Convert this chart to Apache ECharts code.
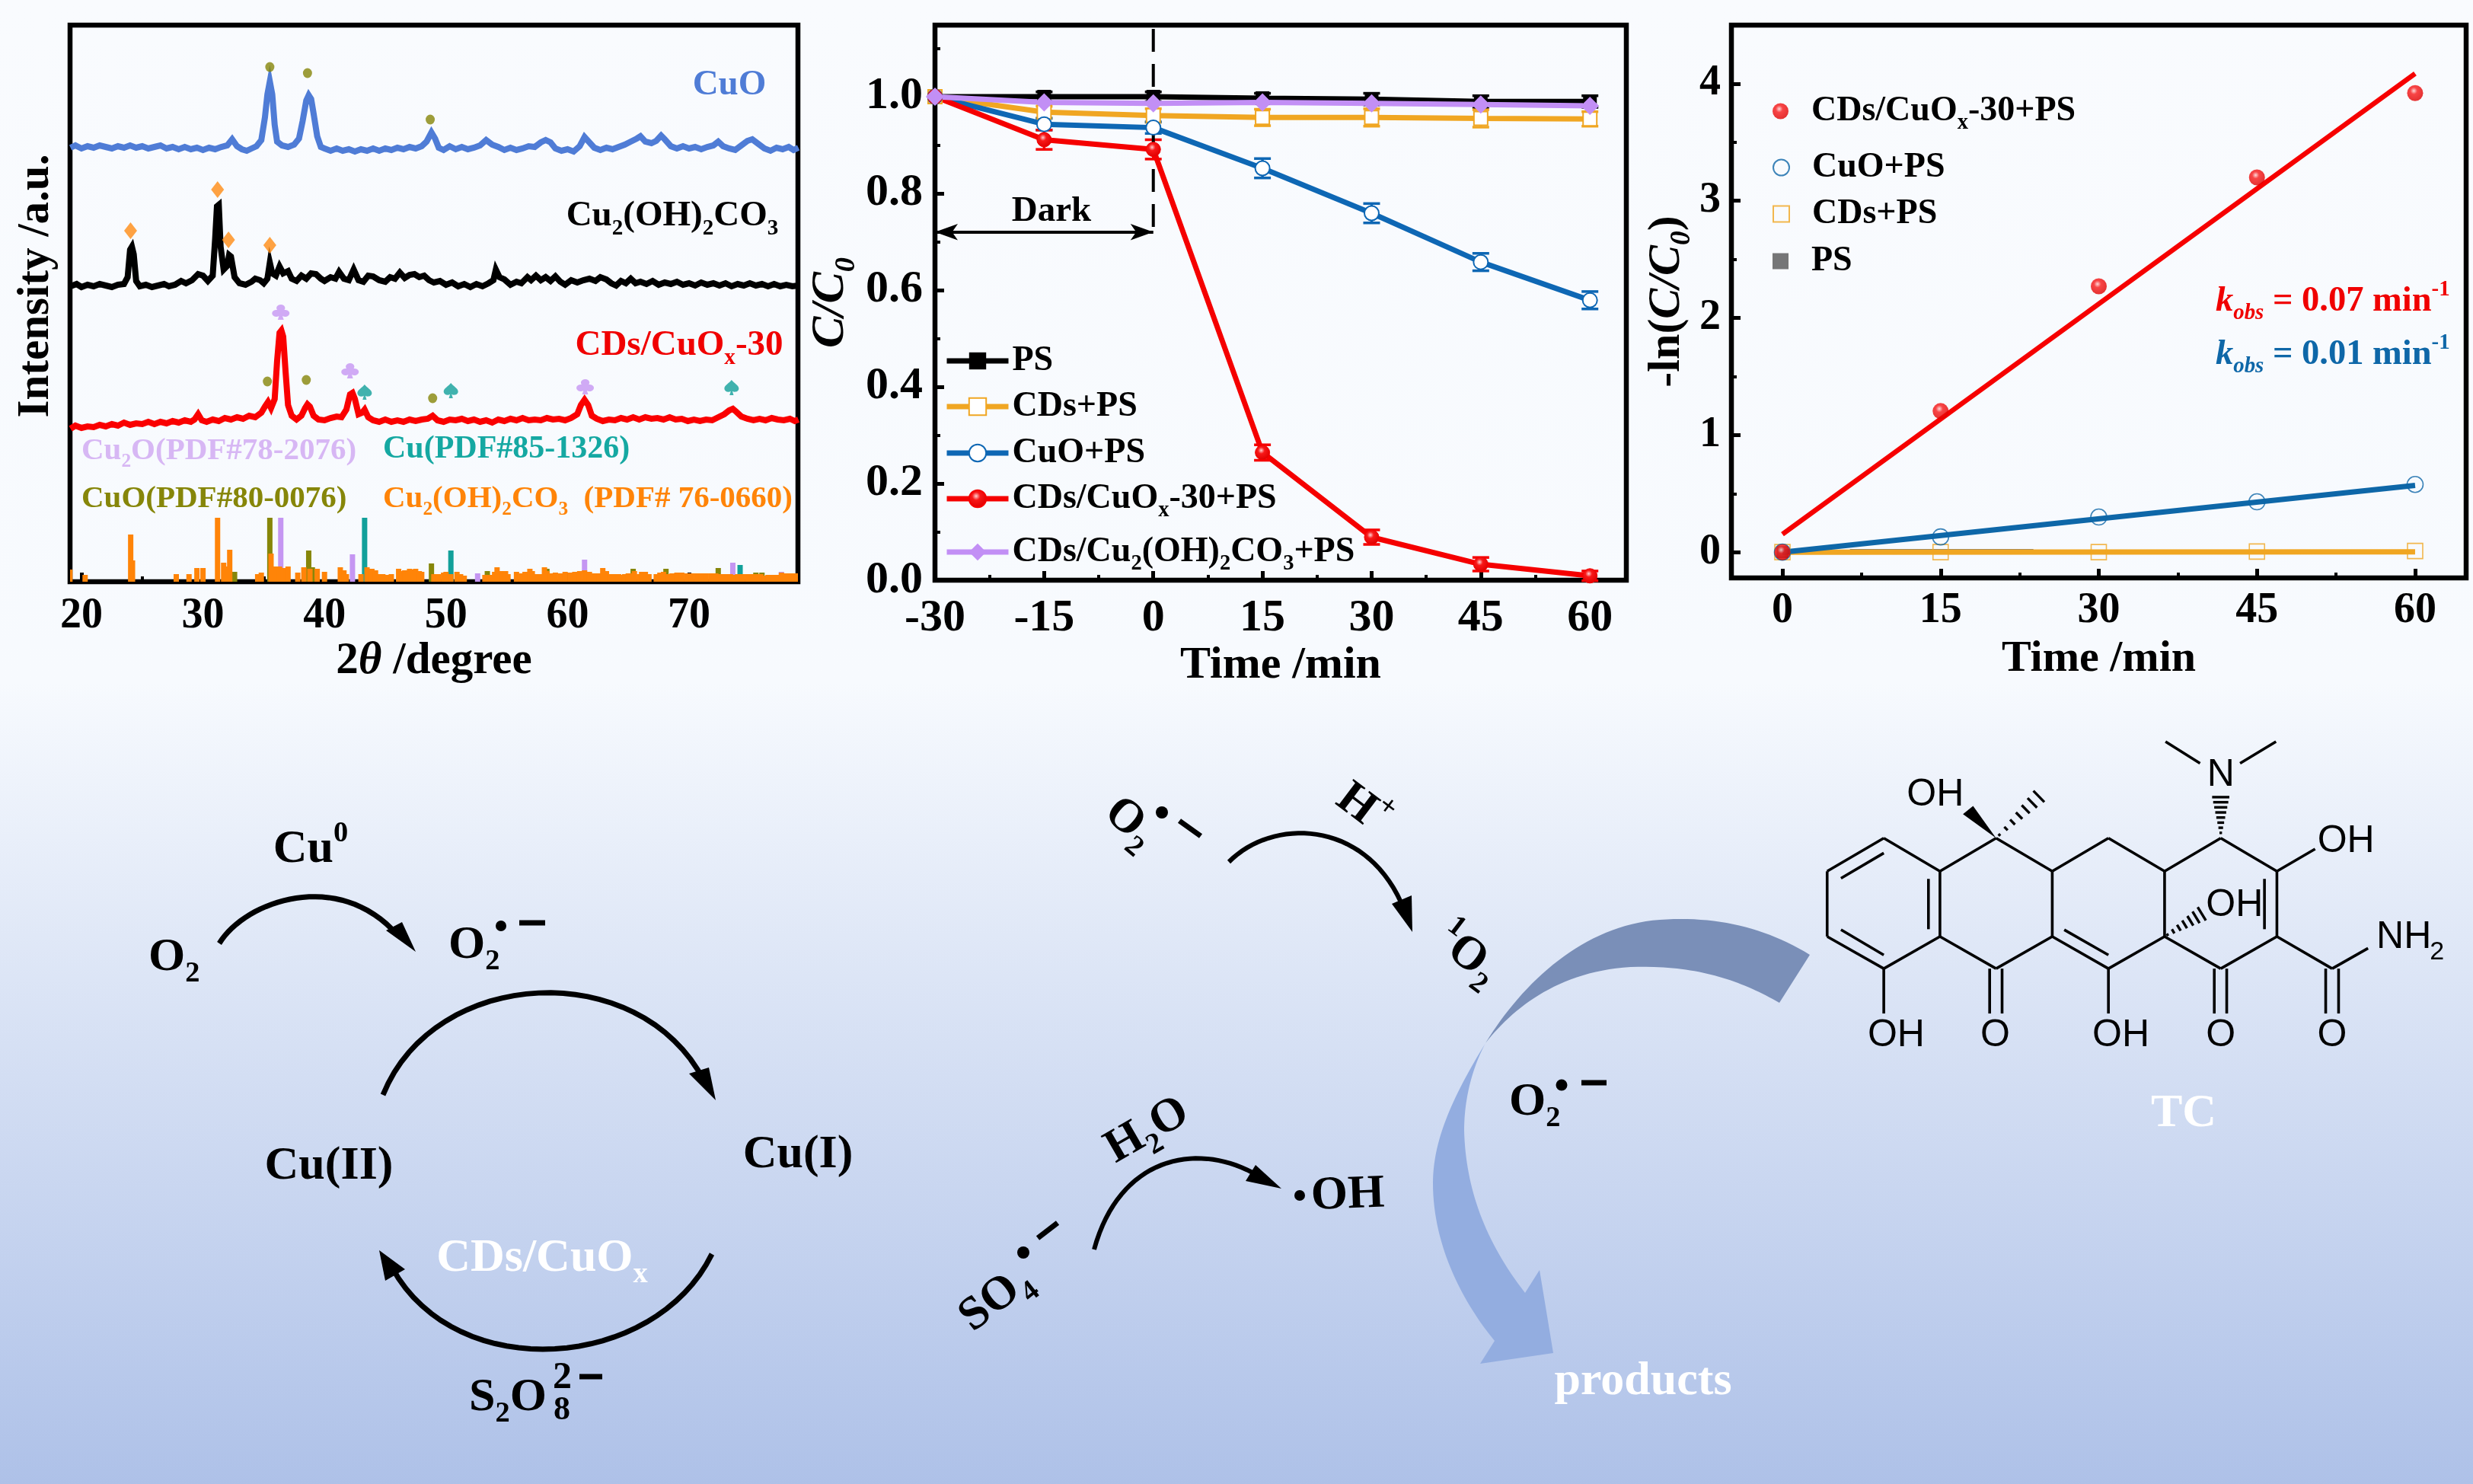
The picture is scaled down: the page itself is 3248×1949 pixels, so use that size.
<!DOCTYPE html>
<html><head><meta charset="utf-8">
<style>html,body{margin:0;padding:0;width:3248px;height:1949px;overflow:hidden}#c{width:3248px;height:1949px}</style>
<script src="https://cdn.jsdelivr.net/npm/echarts@6/dist/echarts.min.js"></script>
</head><body><div id="c"></div>
<script>
// ---------- XRD traces: [2theta, intensity (a.u.)] ----------
const xrdCuO=[[19.1,570],[19.5,573],[20,569],[20.5,572],[21,570],[21.5,573],[22,571],[22.5,569],[23,572],[23.5,570],[24,573],[24.5,570],[25,572],[25.5,569],[26,571],[26.5,573],[27,569],[27.5,571],[28,568],[28.5,571],[29,568],[29.5,570],[30,567],[30.5,570],[31,568],[31.5,571],[32,573],[32.4,581],[32.8,572],[33.2,568],[33.6,566],[34,569],[34.4,572],[34.8,580],[35.1,610],[35.3,640],[35.5,657],[35.7,640],[35.9,600],[36.1,578],[36.5,573],[37,571],[37.5,574],[37.9,582],[38.2,605],[38.5,632],[38.7,639],[38.9,634],[39.1,615],[39.4,585],[39.7,571],[40,569],[40.5,566],[41,569],[41.5,566],[42,568],[42.5,565],[43,568],[43.5,566],[44,569],[44.5,566],[45,569],[45.5,567],[46,570],[46.5,568],[47,571],[47.5,569],[48,572],[48.4,578],[48.8,590],[49.1,582],[49.4,570],[49.8,567],[50.3,572],[50.8,568],[51.3,571],[51.8,568],[52.3,570],[52.8,573],[53.3,580],[53.8,574],[54.3,571],[54.8,567],[55.3,570],[55.8,567],[56.3,569],[56.8,572],[57.3,571],[57.8,577],[58.2,580],[58.6,577],[59,569],[59.5,566],[60,568],[60.5,565],[61,572],[61.4,584],[61.8,577],[62.2,570],[62.7,567],[63.2,570],[63.7,568],[64.2,571],[64.7,574],[65.2,578],[65.7,582],[66,585],[66.4,578],[66.9,576],[67.3,579],[67.7,586],[68,581],[68.5,572],[69,569],[69.5,572],[70,569],[70.5,571],[71,568],[71.5,571],[72,573],[72.4,578],[72.8,572],[73.3,569],[73.8,567],[74.3,573],[74.8,579],[75.2,581],[75.7,575],[76.2,569],[76.7,566],[77.2,570],[77.7,568],[78.2,571],[78.6,567],[79,570]];
const xrdMalachite=[[19.1,388],[19.6,391],[20,387],[20.5,390],[21,388],[21.5,391],[22,389],[22.5,387],[23,390],[23.5,391],[23.8,400],[24,436],[24.15,440],[24.3,430],[24.5,395],[24.8,388],[25.3,390],[25.8,387],[26.3,389],[26.8,391],[27.2,388],[27.7,390],[28.2,395],[28.6,392],[29.1,396],[29.6,404],[30,402],[30.4,395],[30.8,402],[31,450],[31.15,493],[31.3,495],[31.45,440],[31.7,410],[32,415],[32.15,429],[32.3,427],[32.6,400],[33,392],[33.5,390],[34,394],[34.3,398],[34.7,396],[35,392],[35.3,398],[35.5,419],[35.7,405],[36,402],[36.3,414],[36.6,405],[37,408],[37.3,398],[37.7,395],[38.1,402],[38.5,398],[38.9,405],[39.3,404],[39.7,398],[40,395],[40.5,400],[40.9,398],[41.2,407],[41.6,398],[42,396],[42.4,410],[42.8,396],[43.2,394],[43.6,402],[44,401],[44.5,396],[45,394],[45.4,400],[45.8,398],[46.2,406],[46.6,399],[47,403],[47.4,404],[47.8,400],[48.2,402],[48.6,396],[49,393],[49.5,395],[50,390],[50.5,393],[51,388],[51.5,391],[52,387],[52.5,391],[53,388],[53.5,392],[53.9,396],[54.1,410],[54.4,400],[54.8,397],[55.3,390],[55.8,394],[56.2,392],[56.7,400],[57,396],[57.4,402],[57.8,396],[58.2,400],[58.6,395],[59,401],[59.4,394],[59.8,390],[60.3,396],[60.8,393],[61.3,396],[61.8,398],[62.3,395],[62.7,400],[63.2,397],[63.6,392],[64,389],[64.4,395],[64.8,392],[65.2,398],[65.6,392],[66,394],[66.5,391],[67,395],[67.5,390],[68,393],[68.5,391],[69,394],[69.5,390],[70,392],[70.5,389],[71,393],[71.5,390],[72,392],[72.5,389],[73,392],[73.5,388],[74,391],[74.5,389],[75,392],[75.5,389],[76,391],[76.5,388],[77,391],[77.5,388],[78,390],[78.5,388],[79,389]];
const xrdCDs=[[19.1,201],[19.5,205],[20,202],[20.5,204],[21,203],[21.5,206],[22,204],[22.5,207],[23,205],[23.5,209],[24,206],[24.5,208],[25,207],[25.5,210],[26,207],[26.5,210],[27,208],[27.5,211],[28,209],[28.5,212],[29,210],[29.3,213],[29.6,220],[29.9,212],[30.3,210],[30.8,213],[31.3,211],[31.8,215],[32.3,213],[32.8,216],[33.3,214],[33.8,218],[34.3,216],[34.8,222],[35.1,230],[35.35,236],[35.6,228],[35.9,240],[36.1,290],[36.3,327],[36.45,330],[36.6,322],[36.8,275],[37,232],[37.3,218],[37.7,213],[38.1,218],[38.4,228],[38.6,233],[38.8,230],[39.1,218],[39.5,213],[40,212],[40.5,215],[41,217],[41.4,216],[41.8,226],[42.1,246],[42.3,248],[42.5,240],[42.8,220],[43.1,222],[43.3,226],[43.6,216],[44,212],[44.5,210],[45,213],[45.5,210],[46,212],[46.5,210],[47,213],[47.5,211],[48,213],[48.5,214],[48.9,218],[49.3,212],[49.8,210],[50.3,213],[50.8,212],[51.3,214],[51.8,211],[52.3,213],[52.8,210],[53.3,212],[53.8,209],[54.3,213],[54.8,211],[55.3,214],[55.8,212],[56.3,215],[56.8,212],[57.3,213],[57.8,212],[58.3,215],[58.8,213],[59.3,214],[59.8,212],[60.3,215],[60.8,220],[61.1,232],[61.4,239],[61.7,232],[62,218],[62.4,214],[62.9,211],[63.4,213],[63.9,212],[64.4,215],[64.9,213],[65.4,216],[65.9,213],[66.4,216],[66.9,214],[67.4,215],[67.9,213],[68.4,216],[68.9,213],[69.4,214],[69.9,211],[70.4,213],[70.9,211],[71.4,213],[71.9,212],[72.4,216],[72.9,220],[73.3,225],[73.6,227],[73.9,223],[74.3,217],[74.8,214],[75.3,212],[75.8,214],[76.3,212],[76.8,215],[77.3,213],[77.8,212],[78.3,214],[78.7,211],[79,213]];
// ---------- reference sticks: [2theta, height] ----------
const stickOlive=[[35.5,84],[38.7,41],[39,19],[32.6,13],[48.8,24],[53.4,14],[56.9,12],[58.3,17],[65.4,17],[66.4,13],[68.1,17],[72.4,18],[75.5,12],[76,12]];
const stickPurple=[[36.4,84],[42.3,36],[52.6,11],[61.4,29],[73.6,25],[77.6,13]];
const stickTeal=[[43.3,84],[50.4,41],[74.2,22]];
const stickOrange=[[19.05,16],[20.3,9],[24.05,62],[24.2,28],[27.8,10],[28.85,10],[29.5,18],[30,18],[31.2,84],[31.7,25],[32.2,42],[32,20],[34.5,10],[34.8,12],[35.6,37],[36,20],[36.3,20],[36.7,18],[37,20],[37.8,12],[38.3,19],[38.8,17],[39.4,17],[40,13],[41.3,19],[41.6,15],[41.8,10],[43,10],[43.5,19],[43.9,17],[44.2,15],[44.5,10],[44.8,10],[45.1,9],[45.5,10],[46.1,17],[46.4,14],[46.6,15],[46.9,15],[47,17],[47.3,16],[47.5,17],[47.8,14],[48,13],[49,10],[49.4,10],[49.8,12],[50,13],[50.4,10],[50.9,13],[51.2,10],[51.5,8],[53.2,9],[53.5,9],[53.7,9],[54,13],[54.2,19],[54.6,14],[54.9,14],[55.1,10],[55.8,13],[56.2,11],[56.5,13],[56.9,17],[57.1,14],[57.5,10],[57.8,10],[58.1,19],[58.3,14],[58.6,11],[59,12],[59.4,11],[59.8,13],[60.2,12],[60.6,13],[61,14],[61.4,15],[61.8,13],[62.2,11],[62.6,11],[62.9,18],[63.2,14],[63.5,10],[63.8,10],[64.2,10],[64.4,9],[64.7,10],[65,11],[65.2,11],[65.5,14],[65.9,10],[66.1,13],[66.4,13],[66.7,10],[67.3,10],[67.6,12],[67.9,13],[68.3,10],[68.6,11],[69,12],[69.4,12],[69.8,11],[70.2,11],[70.6,11],[71,11],[71.4,11],[71.8,11],[72.2,11],[72.6,10],[73,10],[73.4,10],[73.7,9],[74,10],[74.4,10],[74.8,10],[75.2,10],[75.6,10],[75.9,10],[76.2,8],[76.5,9],[76.9,9],[77.2,9],[77.6,12],[77.9,11],[78.2,11],[78.5,11],[78.9,11]];
// ---------- XRD peak symbols: [2theta, height] ----------
const peakCuO=[[35.5,676],[38.6,668],[48.7,607],[35.3,263],[38.5,265],[48.9,241]];
const peakMalachite=[[24.04,461],[31.2,515],[32.1,449],[35.5,442]];
const peakCu2O=[[36.4,354],[42.1,277],[61.45,256]];
const peakCu=[[43.3,249],[50.4,251],[73.5,255]];
// ---------- C/C0 kinetics ----------
const times=[-30,-15,0,15,30,45,60];
const ccPS=[1,1,1,0.997,0.995,0.99,0.99];
const ccCDs=[1,0.968,0.961,0.957,0.957,0.955,0.954];
const ccCuO=[1,0.943,0.936,0.852,0.759,0.658,0.579];
const ccCDsCuOx=[1,0.911,0.891,0.264,0.089,0.033,0.009];
const ccCDsMal=[1,0.988,0.986,0.988,0.986,0.984,0.981];
const errPS=[0,0.01,0.01,0.01,0.012,0.012,0.012];
const errCDs=[0,0.012,0.014,0.017,0.018,0.018,0.015];
const errCuO=[0,0.012,0.012,0.02,0.02,0.018,0.018];
const errCDsCuOx=[0,0.02,0.02,0.016,0.015,0.014,0.01];
// ---------- -ln(C/C0) ----------
const fitTimes=[0,15,30,45,60];
const lnCDsCuOx=[0,1.205,2.27,3.2,3.92];
const lnCuO=[0,0.13,0.30,0.43,0.578];
const lnCDs=[0,0,0,0.005,0.01];
const lnPSTimes=[0];
const lnPS=[0];
const fitCDsCuOx=[[0,0.153],[60,4.086]];
const fitCuO=[[0,0],[60,0.57]];
const fitCDs=[[0,0],[60,0.003]];
const fitPS=[[6.4,0.018],[23.8,0.018]];
const xrdTicks=[20,30,40,50,60,70], xrdMinor=[25,35,45,55,65,75];
const ccXTicks=[-30,-15,0,15,30,45,60], ccXMinor=[-22.5,-7.5,7.5,22.5,37.5,52.5];
const ccYTicks=[0,0.2,0.4,0.6,0.8,1.0], ccYMinor=[0.1,0.3,0.5,0.7,0.9,1.1];
const lnXTicks=[0,15,30,45,60], lnXMinor=[7.5,22.5,37.5,52.5];
const lnYTicks=[0,1,2,3,4], lnYMinor=[0.5,1.5,2.5,3.5];

// ---------- style ----------
const F='"Liberation Serif"';
const C={black:'#000',orange:'#F0A622',blue:'#0E67B4',red:'#F50000',purple:'#C28FF5',cuo:'#4F7CD6'};
function rich(size,color){
  const b={fontFamily:F,fontWeight:'bold',color,fontSize:size,lineHeight:size*1.3};
  const sub=Object.assign({},b,{fontSize:size*0.62,verticalAlign:'bottom',lineHeight:size*0.62*1.15});
  const sup=Object.assign({},b,{fontSize:size*0.62,verticalAlign:'top',lineHeight:size*0.62*1.15});
  return {m:b,s:sub,u:sup,i:Object.assign({},b,{fontStyle:'italic'}),is:Object.assign({},sub,{fontStyle:'italic'})};
}
const redGrad={type:'radial',x:0.42,y:0.36,r:0.62,colorStops:[{offset:0,color:'#FFD0D0'},{offset:0.35,color:'#F81818'},{offset:1,color:'#E00000'}]};

const g=[]; // graphic
function txt(x,y,s,size,color,rot,align,extra){
  g.push({type:'text',x,y,rotation:(rot||0)*Math.PI/180,z:20,silent:true,
    style:Object.assign({text:s,textAlign:align||'center',textVerticalAlign:'middle',rich:rich(size,color),fill:color},extra||{})});
}
// flatten an M/L/Q/C/Z outline into point lists for polyline and polygon elements
function flatten(d){
  const tk=d.trim().split(/\s+|(?<=[A-Z])|(?=[A-Z])/).filter(Boolean), subs=[]; let cur=null, i=0, cmd='';
  const num=()=>parseFloat(tk[i++]);
  while(i<tk.length){
    if(/[A-Z]/.test(tk[i])) cmd=tk[i++];
    if(cmd==='Z') continue;
    if(cmd==='M'){cur=[[num(),num()]];subs.push(cur);}
    else if(cmd==='L'){cur.push([num(),num()]);}
    else if(cmd==='Q'){const p=cur[cur.length-1],a=[num(),num()],b=[num(),num()];
      for(let k=1;k<=24;k++){const t=k/24,u=1-t;cur.push([u*u*p[0]+2*u*t*a[0]+t*t*b[0],u*u*p[1]+2*u*t*a[1]+t*t*b[1]]);}}
    else if(cmd==='C'){const p=cur[cur.length-1],a=[num(),num()],b=[num(),num()],c=[num(),num()];
      for(let k=1;k<=32;k++){const t=k/32,u=1-t;cur.push([u*u*u*p[0]+3*u*u*t*a[0]+3*u*t*t*b[0]+t*t*t*c[0],u*u*u*p[1]+3*u*u*t*a[1]+3*u*t*t*b[1]+t*t*t*c[1]]);}}
  }
  return subs;
}
function stroke(d,w,color){flatten(d).forEach(points=>g.push({type:'polyline',shape:{points},z:15,silent:true,style:{fill:null,stroke:color||'#000',lineWidth:w}}));}
function fill(d,color){flatten(d).forEach(points=>g.push({type:'polygon',shape:{points},z:15,silent:true,style:{fill:color||'#000',stroke:null}}));}
function dot(x,y,r){g.push({type:'circle',shape:{cx:x,cy:y,r},z:15,silent:true,style:{fill:'#000'}});}

// panel 1 annotations
txt(958,112,'{m|CuO}',47,C.cuo);
txt(883,284,'{m|Cu}{s|2}{m|(OH)}{s|2}{m|CO}{s|3}',47,'#000');
txt(892,454,'{m|CDs/CuO}{s|x}{m|-30}',47,'#F00000');
txt(107,592,'{m|Cu}{s|2}{m|O(PDF#78-2076)}',41,'#D7B7F4',0,'left');
txt(503,590,'{m|Cu(PDF#85-1326)}',42,'#15A8A2',0,'left');
txt(107,655,'{m|CuO(PDF#80-0076)}',41,'#868609',0,'left');
txt(503,655,'{m|Cu}{s|2}{m|(OH)}{s|2}{m|CO}{s|3}{m|  (PDF# 76-0660)}',41,'#FF8408',0,'left');
// panel 2 annotation
txt(1381,278,'{m|Dark}',47,'#000');
// panel 3 annotation
txt(2910,396,'{i|k}{is|obs}{m| = 0.07 min}{u|-1}',46.5,'#F00000',0,'left');
txt(2910,466,'{i|k}{is|obs}{m| = 0.01 min}{u|-1}',46.5,'#0E67A8',0,'left');

// left mechanism
txt(195,1258,'{m|O}{s|2}',62,'#000',0,'left');
txt(408,1116,'{m|Cu}{u|0}',62,'#000');
stroke('M288 1239 C322 1183 445 1140 522 1228',7);
fill('M546 1250 L507 1222 L528 1211 Z');
txt(589,1242,'{m|O}{s|2}',62,'#000',0,'left');
dot(658,1216,7); stroke('M682 1212 L716 1212',7);
stroke('M503 1438 C570 1270 840 1255 925 1420',7);
fill('M940 1445 L905 1410 L931 1402 Z');
txt(432,1532,'{m|Cu(II)}',62,'#000');
txt(1048,1517,'{m|Cu(I)}',62,'#000');
txt(712,1653,'{m|CDs/CuO}{s|x}',62,'#fff');
stroke('M935 1647 C860 1800 600 1820 515 1665',7);
fill('M498 1642 L506 1682 L532 1667 Z');
txt(616,1836,'{m|S}{s|2}{m|O}',62,'#000',0,'left');
txt(727,1853,'{m|8}',44,'#000',0,'left');
txt(726,1810,'{m|2}',50,'#000',0,'left');
stroke('M761 1808 L791 1808',7);

// centre mechanism
txt(1484,1081,'{m|O}{s|2}',62,'#000',-40);
dot(1526,1067,8); stroke('M1549 1078 L1577 1098',7);
txt(1790,1063,'{m|H}{u|+}',62,'#000',-37);
stroke('M1614 1132 C1670 1075 1790 1075 1840 1185',6);
fill('M1855 1224 L1828 1187 L1854 1176 Z');
txt(1927,1255,'{u|1}{m|O}{s|2}',62,'#000',-37);
txt(1507,1485,'{m|H}{s|2}{m|O}',62,'#000',30);
stroke('M1437 1641 C1470 1520 1570 1500 1645 1540',6);
fill('M1683 1561 L1649 1530 L1636 1551 Z');
dot(1707,1570,7);
txt(1722,1572,'{m|OH}',62,'#000',2,'left');
txt(1308,1706,'{m|SO}{s|4}',62,'#000',38);
dot(1344,1645,8); stroke('M1363 1626 L1389 1606',7);
txt(1982,1448,'{m|O}{s|2}',62,'#000',0,'left');
dot(2051,1425,7.5); stroke('M2077 1422 L2110 1422',7);
// big curved arrow
fill('M2377 1254 Q2290 1200 2180 1208 C2080 1215 2000 1290 1951 1370 C1990 1320 2060 1265 2172 1270 C2240 1272 2290 1290 2337 1317 Z','#7A8FB8');
fill('M1951 1370 C1905 1445 1882 1500 1882 1554 C1882 1640 1925 1715 1963 1761 L1944 1791 L2040 1777 L2022 1668 L2003 1698 C1950 1630 1925 1560 1923 1485 C1923 1440 1935 1400 1951 1370 Z','#93ADE0');
txt(2158,1815,'{m|products}',62,'#fff');

// tetracycline skeleton (drawn in the picture's own pixel frame)
const mx=v=>2300+v/1.654, my=v=>940+v/2.8;
const bonds=[[165,572,288,450],[288,450,410,572],[410,572,410,812],[410,812,288,930],[288,930,165,812],[165,812,165,572],
[410,572,532,450],[532,450,654,572],[654,572,654,812],[654,812,532,930],[532,930,410,812],
[654,572,776,450],[776,450,898,572],[898,572,898,812],[898,812,776,930],[776,930,654,812],
[898,572,1020,450],[1020,450,1142,572],[1142,572,1142,812],[1142,812,1020,930],[1020,930,898,812],
[195,598,288,505],[385,600,385,785],[195,787,288,880],[680,787,776,880],[1115,600,1115,785],
[518,930,518,1095],[545,930,545,1095],[288,930,288,1095],[776,930,776,1095],[1006,930,1006,1095],[1033,930,1033,1095],
[1142,812,1262,930],[1262,930,1340,855],[1248,930,1248,1095],[1276,930,1276,1095],[1142,572,1225,490],
[975,175,900,95],[1062,175,1140,95]];
stroke(bonds.map(b=>`M${mx(b[0])} ${my(b[1])} L${mx(b[2])} ${my(b[3])}`).join(' '),3.6,'#000');
fill(`M${mx(532)} ${my(450)} L${mx(460)} ${my(362)} L${mx(482)} ${my(332)} Z`);
function hash(x0,y0,x1,y1,n,w0,w1){
  const dx=mx(x1)-mx(x0), dy=my(y1)-my(y0), L=Math.hypot(dx,dy), px=-dy/L, py=dx/L; let d='';
  for(let k=0;k<n;k++){const t=(k+0.5)/n, hw=(w0+(w1-w0)*t)/2, cx=mx(x0)+dx*t, cy=my(y0)+dy*t;
    d+=`M${cx-px*hw} ${cy-py*hw} L${cx+px*hw} ${cy+py*hw} `;}
  stroke(d,3.4,'#000');
}
hash(532,450,632,285,7,2,22); hash(1020,440,1020,290,8,2,24); hash(898,812,985,722,7,2,22);
const molLabels=[['OH',400,292],['N',1020,218],['OH',1292,462],['OH',1050,699],['O',530,1177],['O',1020,1177],['O',1262,1177],['OH',315,1177],['OH',803,1177]];
molLabels.forEach(l=>g.push({type:'text',x:mx(l[1]),y:my(l[2]),z:20,silent:true,style:{text:l[0],fontFamily:'"Liberation Sans"',fontSize:50,fill:'#000',textAlign:'center',textVerticalAlign:'middle'}}));
g.push({type:'text',x:mx(1358),y:my(815),z:20,silent:true,style:{text:'NH',fontFamily:'"Liberation Sans"',fontSize:50,fill:'#000',textAlign:'left',textVerticalAlign:'middle'}});
g.push({type:'text',x:mx(1474),y:my(870),z:20,silent:true,style:{text:'2',fontFamily:'"Liberation Sans"',fontSize:34,fill:'#000',textAlign:'left',textVerticalAlign:'middle'}});
txt(2868,1463,'{m|TC}',62,'#fff');

// ---------- axes ----------
const grids=[{left:92,top:33,width:956,height:731},{left:1228,top:33,width:908,height:729},{left:2274,top:33,width:965,height:726}]
  .map(r=>Object.assign(r,{show:true,borderColor:'#000',borderWidth:6.5,backgroundColor:'transparent',containLabel:false,outerBoundsMode:'none',z:1}));
const lab=(size,margin,pad)=>({fontFamily:F,fontWeight:'bold',fontSize:size,color:'#000',margin,padding:pad||0,hideOverlap:false,showMinLabel:true,showMaxLabel:true});
function mainAxis(gi,min,max,ticks,size,margin,len,name,gap,nameRich,pad){
  return {type:'value',gridIndex:gi,min,max,axisLine:{show:false,onZero:false},splitLine:{show:false},minorTick:{show:false},
    axisTick:{show:true,inside:true,length:len,lineStyle:{width:5,color:'#000'},customValues:ticks},
    axisLabel:Object.assign(lab(size,margin,pad),{customValues:ticks}),
    name,nameLocation:'middle',nameGap:gap,nameTextStyle:{rich:nameRich}};
}
function minorAxis(gi,min,max,ticks,pos){
  return {type:'value',gridIndex:gi,min,max,position:pos,axisLine:{show:false,onZero:false},splitLine:{show:false},axisLabel:{show:false},
    axisTick:{show:true,inside:true,length:7,lineStyle:{width:4,color:'#000'},customValues:ticks}};
}
const xAxis=[
  mainAxis(0,19.06,78.96,xrdTicks,56,18,12,'{m|2}{i|θ}{m| /degree}',65,rich(59,'#000')),
  minorAxis(0,19.06,78.96,xrdMinor,'bottom'),
  mainAxis(1,-30,65,ccXTicks,60,20,12,'{m|Time /min}',73,rich(60,'#000')),
  minorAxis(1,-30,65,ccXMinor,'bottom'),
  mainAxis(2,-4.84,64.84,lnXTicks,56,16,12,'{m|Time /min}',69,rich(58,'#000')),
  minorAxis(2,-4.84,64.84,lnXMinor,'bottom')];
const yAxis=[
  {type:'value',gridIndex:0,min:0,max:731,axisLine:{show:false,onZero:false},splitLine:{show:false},axisTick:{show:false},axisLabel:{show:false},
    name:'{m|Intensity /a.u.}',nameLocation:'middle',nameGap:6,nameTextStyle:{rich:rich(59,'#000'),padding:[0,0,0,46]}},
  minorAxis(0,0,731,[],'left'),
  mainAxis(1,0,1.148,ccYTicks,60,16,12,'{i|C/C}{is|0}',97,rich(62,'#000'),[4,0,0,0]),
  minorAxis(1,0,1.148,ccYMinor,'left'),
  mainAxis(2,-0.22,4.5,lnYTicks,56,14,12,'{m|-ln(}{i|C/C}{is|0}{m|)}',42,rich(60,'#000'),[8,0,0,0]),
  minorAxis(2,-0.22,4.5,lnYMinor,'left')];
yAxis[2].axisLabel.formatter=v=>v.toFixed(1);

// ---------- series ----------
const series=[];
const idx=(i)=>({xAxisIndex:i,yAxisIndex:i});
function stickSeries(name,data,color){
  series.push({name,type:'custom',...idx(0),data,clip:true,silent:true,
    renderItem:(p,api)=>{const a=api.coord([api.value(0),0]),b=api.coord([api.value(0),api.value(1)]);
      return {type:'rect',shape:{x:a[0]-3.5,y:b[1],width:7,height:a[1]-b[1]},style:{fill:color}};}});
}
stickSeries('CuO ref',stickOlive,'#868609');
stickSeries('Cu2O ref',stickPurple,'#C596F2');
stickSeries('Cu ref',stickTeal,'#12A09A');
stickSeries('Malachite ref',stickOrange,'#FF8408');
[['CuO',xrdCuO,C.cuo],['Cu2(OH)2CO3',xrdMalachite,'#000'],['CDs/CuOx-30',xrdCDs,'#FA0000']].forEach(s=>
  series.push({name:s[0],type:'line',...idx(0),data:s[1],symbol:'none',silent:true,lineStyle:{color:s[2],width:8,join:'miter'},z:3}));
const club='path://M12 2a5 5 0 0 1 5 5c0 1-.3 1.9-.8 2.7A5 5 0 1 1 14 18.5l1.5 5.5h-7l1.5-5.5a5 5 0 1 1-2.2-8.8A5 5 0 0 1 12 2z';
const spade='path://M12 1C9 6 3 9 3 14a5 5 0 0 0 8 4l-1.5 6h5L13 18a5 5 0 0 0 8-4c0-5-6-8-9-13z';
[['CuO peaks',peakCuO,'circle',[12,13],'#868609'],['Malachite peaks',peakMalachite,'diamond',[17,22],'#FF8C14'],
 ['Cu2O peaks',peakCu2O,club,[23,20],'#C596F2'],['Cu peaks',peakCu,spade,[19,20],'#12A09A']].forEach(s=>
  series.push({name:s[0],type:'scatter',...idx(0),data:s[1],symbol:s[2],symbolSize:s[3],silent:true,itemStyle:{color:s[4]},z:4,clip:false}));

function zip(xs,ys){return xs.map((x,i)=>[x,ys[i]]);}
function errSeries(vals,errs,color){
  const d=times.map((t,i)=>[t,vals[i]-errs[i],vals[i]+errs[i]]).filter((r,i)=>errs[i]>0);
  series.push({name:'err',type:'custom',...idx(2),data:d,silent:true,clip:false,z:3,
    renderItem:(p,api)=>{const a=api.coord([api.value(0),api.value(1)]),b=api.coord([api.value(0),api.value(2)]);
      const st={stroke:color,lineWidth:3.5,fill:null};
      return {type:'group',children:[
        {type:'line',shape:{x1:a[0],y1:a[1],x2:b[0],y2:b[1]},style:st},
        {type:'line',shape:{x1:a[0]-11,y1:a[1],x2:a[0]+11,y2:a[1]},style:st},
        {type:'line',shape:{x1:b[0]-11,y1:b[1],x2:b[0]+11,y2:b[1]},style:st}]};}});
}
function ccSeries(name,vals,color,symbol,size,fillColor,borderW){
  series.push({name,type:'line',...idx(2),data:zip(times,vals),clip:false,silent:true,z:4,
    symbol,symbolSize:size,showSymbol:true,lineStyle:{color,width:7},
    itemStyle:{color:fillColor,borderColor:color,borderWidth:borderW}});
}
errSeries(ccPS,errPS,'#000'); ccSeries('PS',ccPS,'#000','rect',18,'#000',0);
errSeries(ccCDs,errCDs,C.orange); ccSeries('CDs+PS',ccCDs,C.orange,'rect',18,'#FFFFFF',2);
errSeries(ccCuO,errCuO,C.blue); ccSeries('CuO+PS',ccCuO,C.blue,'circle',19,'#FFFFFF',2);
errSeries(ccCDsCuOx,errCDsCuOx,'#F50000'); ccSeries('CDs/CuOx-30+PS',ccCDsCuOx,'#F50000','circle',19,redGrad,1);
ccSeries('CDs/Cu2(OH)2CO3+PS',ccCDsMal,C.purple,'diamond',24,C.purple,0);
// dashed light-on line and dark-stage span
series.push({name:'light on',type:'line',...idx(2),data:[[0,1.14],[0,0.715]],symbol:'none',silent:true,clip:false,z:3,
  lineStyle:{color:'#000',width:4,type:[30,16]},
  markLine:{silent:true,animation:false,symbol:['arrow','arrow'],symbolSize:[16,30],label:{show:false},
    lineStyle:{color:'#000',width:4,type:'solid'},data:[[{coord:[-30,0.72]},{coord:[0,0.72]}]]}});

// panel 3
[['fit PS',fitPS,'#000',2],['fit CDs',fitCDs,C.orange,7],['fit CuO',fitCuO,'#0E67A8',7],['fit CDsCuOx',fitCDsCuOx,'#F60000',6.5]].forEach(s=>
  series.push({name:s[0],type:'line',...idx(4),data:s[1],symbol:'none',silent:true,lineStyle:{color:s[2],width:s[3]},z:3}));
function pts(name,xs,ys,symbol,size,item){
  series.push({name,type:'scatter',...idx(4),data:zip(xs,ys),symbol,symbolSize:size,silent:true,itemStyle:item,z:4,clip:false});
}
pts('k PS',lnPSTimes,lnPS,'rect',16,{color:'#555555'});
pts('k CDs',fitTimes,lnCDs,'rect',20,{color:'rgba(0,0,0,0)',borderColor:C.orange,borderWidth:1.6});
pts('k CuO',fitTimes,lnCuO,'circle',21,{color:'rgba(0,0,0,0)',borderColor:'#0E67A8',borderWidth:1.6});
pts('k CDsCuOx',fitTimes,lnCDsCuOx,'circle',21,{color:redGrad});

// ---------- legends (one per entry, so each row sits at its own height) ----------
const legText={'PS':'{m|PS}','CDs+PS':'{m|CDs+PS}','CuO+PS':'{m|CuO+PS}','CDs/CuOx-30+PS':'{m|CDs/CuO}{s|x}{m|-30+PS}',
  'CDs/Cu2(OH)2CO3+PS':'{m|CDs/Cu}{s|2}{m|(OH)}{s|2}{m|CO}{s|3}{m|+PS}',
  'k PS':'{m|PS}','k CDs':'{m|CDs+PS}','k CuO':'{m|CuO+PS}','k CDsCuOx':'{m|CDs/CuO}{s|x}{m|-30+PS}'};
const legends=[];
[['PS',481],['CDs+PS',541],['CuO+PS',602],['CDs/CuOx-30+PS',662],['CDs/Cu2(OH)2CO3+PS',732]].forEach(r=>
  legends.push({data:[r[0]],left:1240,top:r[1]-30,padding:0,orient:'horizontal',itemWidth:81,itemHeight:28,selectedMode:false,
    lineStyle:{width:7},formatter:n=>legText[n],textStyle:{rich:rich(46,'#000'),padding:[0,0,0,0]}}));
[['k CDsCuOx',153],['k CuO',227],['k CDs',288],['k PS',350]].forEach(r=>
  legends.push({data:[r[0]],left:2328,top:r[1]-30,padding:0,orient:'horizontal',itemWidth:21,itemHeight:21,selectedMode:false,
    formatter:n=>legText[n],textStyle:{rich:rich(46,'#000'),padding:[0,0,0,25]}}));

const chart=echarts.init(document.getElementById('c'),null,{renderer:'canvas',width:3248,height:1949,devicePixelRatio:1});
chart.setOption({animation:false,
  backgroundColor:{type:'linear',x:0,y:0,x2:0,y2:1,colorStops:[{offset:0,color:'#F9FBFE'},{offset:0.46,color:'#F7FAFE'},{offset:1,color:'#AEC1E8'}]},
  grid:grids,xAxis,yAxis,series,legend:legends,graphic:{elements:g}});
</script></body></html>
